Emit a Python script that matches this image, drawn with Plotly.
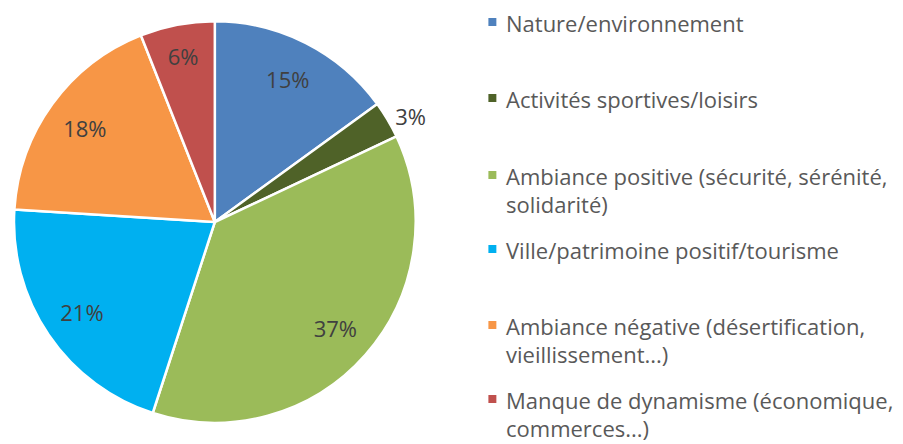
import plotly.graph_objects as go

categories = [
    "Nature/environnement",
    "Activités sportives/loisirs",
    "Ambiance positive (sécurité, sérénité,<br>solidarité)",
    "Ville/patrimoine positif/tourisme",
    "Ambiance négative (désertification,<br>vieillissement...)",
    "Manque de dynamisme (économique,<br>commerces...)",
]
values = [15, 3, 37, 21, 18, 6]
colors = ["#4F81BD", "#4F6228", "#9BBB59", "#00B0F0", "#F79646", "#C0504D"]
text_pos = ["inside", "outside", "inside", "inside", "inside", "inside"]

# page body has an 8px margin, so the figure starts at (8, 8)
OFF = 8
W, H = 903 - OFF, 444 - OFF


def px(x):
    return (x - OFF) / W


def py(y):
    return 1 - (y - OFF) / H


dom = dict(x=[px(11), px(414)], y=[py(423), py(21)])

fig = go.Figure()
# coloured pie
fig.add_trace(go.Pie(
    labels=categories, values=values, sort=False, direction="clockwise",
    marker=dict(colors=colors, line=dict(color="white", width=2.5)),
    textinfo="none", domain=dom, showlegend=False,
    hoverinfo="label+percent",
))
# transparent ring on top, only to push the percentage labels outwards
fig.add_trace(go.Pie(
    labels=categories, values=values, sort=False, direction="clockwise",
    hole=0.6,
    marker=dict(colors=["rgba(0,0,0,0)"] * len(values), line=dict(width=0)),
    texttemplate="%{percent:.0%}",
    textposition=text_pos,
    insidetextorientation="horizontal",
    textfont=dict(family="Open Sans", size=22, color="#404040"),
    domain=dom, showlegend=False, hoverinfo="skip",
))

# legend drawn by hand
item_y = [21, 97, 174, 248, 324, 398]
line_gap = 28
for name, c, y in zip(categories, colors, item_y):
    fig.add_shape(type="rect", xref="paper", yref="paper",
                  x0=px(487), x1=px(495), y0=py(y + 5), y1=py(y - 3),
                  fillcolor=c, line=dict(width=0))
    for k, line in enumerate(name.split("<br>")):
        fig.add_annotation(x=px(503), y=py(y + k * line_gap + 2),
                           xref="paper", yref="paper",
                           text=line, showarrow=False,
                           xanchor="left", yanchor="middle", align="left",
                           font=dict(family="Open Sans", size=22, color="#595959"))

fig.update_layout(
    width=W, height=H,
    margin=dict(l=0, r=0, t=0, b=0),
    paper_bgcolor="white",
    plot_bgcolor="white",
)
fig.write_html("out.html")
